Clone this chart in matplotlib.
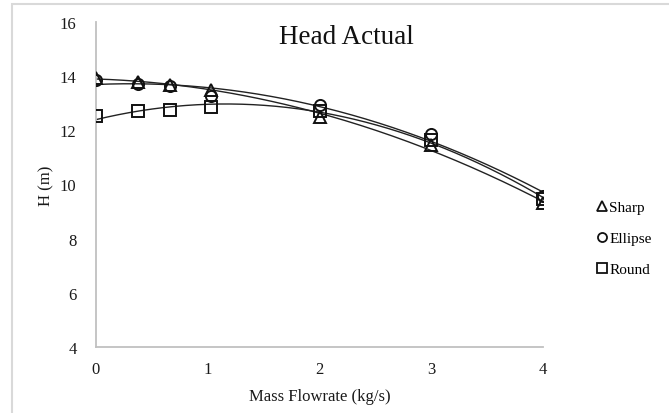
import numpy as np
import matplotlib.pyplot as plt
from matplotlib.lines import Line2D
from matplotlib.patches import Rectangle

# mass flowrate [kg/s] and measured head [m]
flow = [0.0, 0.38, 0.66, 1.03, 2.0, 3.0, 4.0]
head_sharp = [13.95, 13.78, 13.68, 13.50, 12.50, 11.45, 9.30]
head_ellipse = [13.87, 13.71, 13.63, 13.26, 12.95, 11.85, 9.58]
head_round = [12.52, 12.70, 12.76, 12.85, 12.73, 11.65, 9.45]

series = [
    ("Sharp", head_sharp, "^"),
    ("Ellipse", head_ellipse, "o"),
    ("Round", head_round, "s"),
]

plt.rcParams['font.family'] = ['Liberation Serif', 'DejaVu Serif']

fig = plt.figure(figsize=(6.69, 4.14), dpi=100)
ax = fig.add_axes([96/669, 1 - 348/414, (543 - 96)/669, (348 - 23)/414])

# outer chart border
fig.patches.append(Rectangle((12/669, -0.05), 1.2, 1 - 5/414 + 0.05,
                             transform=fig.transFigure, fill=False,
                             edgecolor='#d9d9d9', linewidth=1.5))

xs = np.linspace(0, 4, 200)
for name, h, mk in series:
    # 2nd order polynomial trendline
    coef = np.polyfit(flow, h, 2)
    ax.plot(xs, np.polyval(coef, xs), color='#222222', linewidth=1.0, zorder=2)
    ax.plot(flow, h, linestyle='none', marker=mk,
            markersize=8.5 if mk == '^' else 8,
            markerfacecolor='none', markeredgecolor='#111111',
            markeredgewidth=1.4, zorder=3)

ax.set_xlim(0, 4)
ax.set_ylim(4, 16)
ax.set_xticks([0, 1, 2, 3, 4])
ax.set_yticks([4, 6, 8, 10, 12, 14, 16])
ax.tick_params(length=0, labelsize=12, colors='#1a1a1a', pad=10)
ax.tick_params(axis='y', pad=14)
for s in ['top', 'right']:
    ax.spines[s].set_visible(False)
for s in ['left', 'bottom']:
    ax.spines[s].set_color('#c0c0c0')
    ax.spines[s].set_linewidth(1.3)

ax.set_xlabel('Mass Flowrate (kg/s)', fontsize=12, color='#1a1a1a', labelpad=8)
ax.set_ylabel('H (m)', fontsize=12, color='#1a1a1a', labelpad=4)

fig.text(346/669, 1 - 38/414, 'Head Actual', fontsize=19.5, ha='center',
         va='center', color='#111111')

handles = [Line2D([], [], linestyle='none', marker=mk, markersize=6.5,
                  markerfacecolor='none', markeredgecolor='#111111',
                  markeredgewidth=1.3) for _, _, mk in series]
labels = [name for name, _, _ in series]
fig.legend(handles, labels, loc='upper left',
           bbox_to_anchor=(590/669, 1 - 194/414), frameon=False,
           fontsize=11, handlelength=0.6, handletextpad=0.15,
           labelspacing=1.12, borderpad=0)

fig.savefig('out.png', dpi=100)
